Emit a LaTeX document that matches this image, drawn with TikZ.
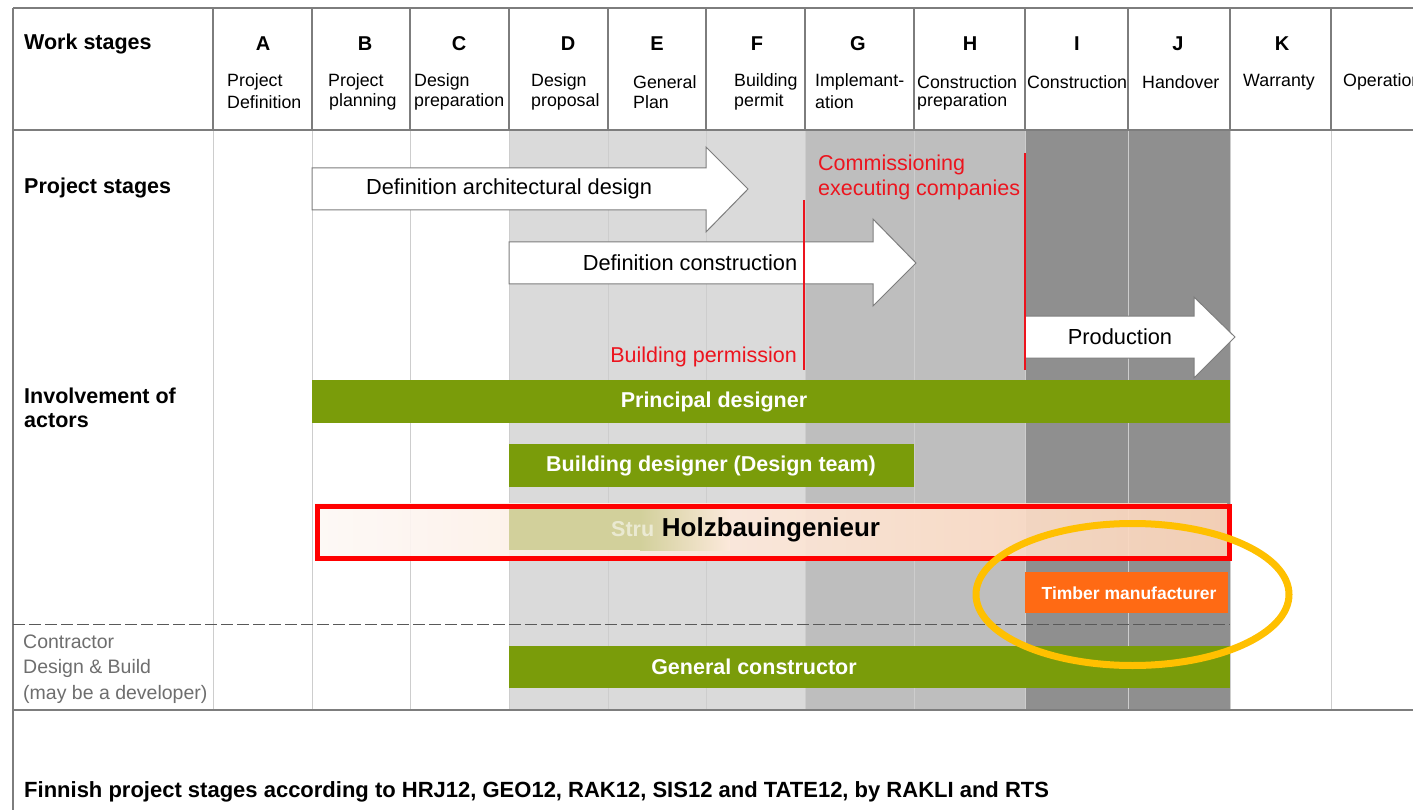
\documentclass[tikz,border=0pt]{standalone}
\usepackage{fontspec}
\setmainfont{Liberation Sans}
\usetikzlibrary{shapes.geometric}
\definecolor{barGreen}{RGB}{122,156,10}
\definecolor{grayA}{RGB}{218,218,218}
\definecolor{grayB}{RGB}{190,190,190}
\definecolor{grayC}{RGB}{143,143,143}
\definecolor{lineDark}{RGB}{125,125,125}
\definecolor{lineLight}{RGB}{205,205,205}
\definecolor{redLine}{RGB}{236,20,30}
\definecolor{peach}{RGB}{251,212,185}
\definecolor{paleWhite}{RGB}{253,249,246}
\definecolor{paleOlive}{RGB}{210,208,155}
\definecolor{midPeach}{RGB}{252,233,219}
\definecolor{timberOrange}{RGB}{255,106,20}
\definecolor{goldRing}{RGB}{255,192,0}
\definecolor{contrGray}{RGB}{110,110,110}
\begin{document}
\begin{tikzpicture}[x=1pt,y=-1pt,
  hdr/.style={font=\fontsize{17.8pt}{20pt}\selectfont, inner sep=0, anchor=west},
  letter/.style={font=\bfseries\fontsize{20pt}{22pt}\selectfont, inner sep=0},
  rowlabel/.style={font=\bfseries\fontsize{21.5pt}{24pt}\selectfont, inner sep=0, anchor=west},
  arrowbox/.style={fill=white, draw=lineDark, line width=1pt},
  arrtext/.style={font=\fontsize{21.8pt}{24pt}\selectfont, inner sep=0},
  redtext/.style={font=\fontsize{21.5pt}{24pt}\selectfont, text=redLine, inner sep=0},
  redline/.style={draw=redLine, line width=2pt},
  greenbar/.style={fill=barGreen, draw=none, anchor=north west, inner sep=0},
  bartext/.style={font=\bfseries\fontsize{21.5pt}{24pt}\selectfont, text=white, inner sep=0},
  contr/.style={font=\fontsize{19.5pt}{22pt}\selectfont, text=contrGray, inner sep=0, anchor=west},
  hline/.style={draw=lineDark, line width=1.2pt},
  bodyline/.style={draw=lineLight, line width=0.9pt}
]
\useasboundingbox (0,0) rectangle (1413,810);
\clip (0,0) rectangle (1413,810);
\fill[white] (0,0) rectangle (1413,810);

% shaded stage regions
\fill[grayA] (509,130) rectangle (805,710);
\fill[grayB] (805,130) rectangle (1025,710);
\fill[grayC] (1025,130) rectangle (1230,710);

% body column lines
\foreach \cx in {213,312,410,509,608,706,805,914,1025,1128,1230,1331}
  \draw[bodyline] (\cx,130) -- (\cx,710);
% header column lines
\foreach \cx in {213,312,410,509,608,706,805,914,1025,1128,1230,1331}
  \draw[hline] (\cx,8) -- (\cx,130);
% table frame
\draw[hline] (13,8) -- (1413,8);
\draw[hline] (13,130) -- (1413,130);
\draw[hline] (13,710) -- (1413,710);
\draw[hline] (13,8) -- (13,810);

% header
\node[rowlabel] (ws) at (24,44) {Work stages};
\node[letter] (lA) at (263,44) {A};
\node[letter] (lB) at (365,44) {B};
\node[letter] (lC) at (459,44) {C};
\node[letter] (lD) at (568,44) {D};
\node[letter] (lE) at (657,44) {E};
\node[letter] (lF) at (757,44) {F};
\node[letter] (lG) at (858,44) {G};
\node[letter] (lH) at (970,44) {H};
\node[letter] (lI) at (1077,44) {I};
\node[letter] (lJ) at (1178,44) {J};
\node[letter] (lK) at (1282,44) {K};

\node[hdr] (sA1) at (227,82) {Project};
\node[hdr] (sA2) at (227,102) {Definition};
\node[hdr] (sB1) at (328,82) {Project};
\node[hdr] (sB2) at (329,102) {planning};
\node[hdr] (sC1) at (414,82) {Design};
\node[hdr] (sC2) at (414,102) {preparation};
\node[hdr] (sD1) at (531,82) {Design};
\node[hdr] (sD2) at (531,102) {proposal};
\node[hdr] (sE1) at (633,82) {General};
\node[hdr] (sE2) at (633,102) {Plan};
\node[hdr] (sF1) at (734,82) {Building};
\node[hdr] (sF2) at (734,102) {permit};
\node[hdr] (sG1) at (815,82) {Implemant-};
\node[hdr] (sG2) at (815,102) {ation};
\node[hdr] (sH1) at (917,82) {Construction};
\node[hdr] (sH2) at (917,102) {preparation};
\node[hdr] (sI1) at (1027,82) {Construction};
\node[hdr] (sJ1) at (1142,82) {Handover};
\node[hdr] (sK1) at (1243,82) {Warranty};
\node[hdr] (sL1) at (1343,82) {Operation};

% row labels
\node[rowlabel] (ps) at (24,188) {Project stages};
\node[rowlabel] (inv1) at (24,396) {Involvement of};
\node[rowlabel] (inv2) at (24,421) {actors};

% arrows
\draw[arrowbox] (312,168) -- (706,168) -- (706,147) -- (748,189) -- (706,232) -- (706,210) -- (312,210) -- cycle;
\node[arrtext] (adesign) at (509,189) {Definition architectural design};
\draw[arrowbox] (509,242) -- (873,242) -- (873,219) -- (916,263) -- (873,306) -- (873,284) -- (509,284) -- cycle;
\node[arrtext] (aconstr) at (690,263) {Definition construction};
\draw[arrowbox] (1025,316) -- (1194,316) -- (1194,297) -- (1235,337) -- (1194,378) -- (1194,358) -- (1025,358) -- cycle;
\node[arrtext] (aprod) at (1120,337) {Production};

% red milestones
\coordinate (r1t) at (804,200);
\coordinate (r1b) at (804,370);
\coordinate (r2t) at (1025,153);
\coordinate (r2b) at (1025,370);
\draw[redline] (r1t) -- (r1b);
\draw[redline] (r2t) -- (r2b);
\node[redtext, anchor=west] (comm1) at (818,165) {Commissioning};
\node[redtext, anchor=west] (comm2) at (818,190) {executing companies};
\node[redtext, anchor=east] (bperm) at (797,357) {Building permission};

% actor bars
\node[greenbar, minimum width=918pt, minimum height=43pt] (principal) at (312,380) {};
\node[bartext] (principalT) at (714,402) {Principal designer};
\node[greenbar, minimum width=405pt, minimum height=43pt] (building) at (509,444) {};
\node[bartext] (buildingT) at (711,466) {Building designer (Design team)};

% Holzbauingenieur box
\node[anchor=north west, minimum width=912pt, minimum height=53pt, inner sep=0,
      left color=paleWhite, right color=peach, fill opacity=0.92, draw=none] (holzfill) at (315,503) {};
\fill[paleOlive] (509,507) rectangle (640,550);
\shade[left color=paleOlive, right color=midPeach] (640,507) rectangle (730,550);
\node[bartext, anchor=west, text opacity=0.55] (stru) at (611,529) {Stru};
\node[anchor=north west, minimum width=912pt, minimum height=52pt, inner sep=0,
      draw=red, line width=5pt] (holz) at (315,504) {};
\node[font=\bfseries\fontsize{26pt}{28pt}\selectfont, inner sep=0] (holzT) at (771,530) {Holzbauingenieur};

% timber manufacturer
\node[anchor=north west, fill=timberOrange, minimum width=203pt, minimum height=41pt, inner sep=0] (timber) at (1025,572) {};
\node[font=\bfseries\fontsize{17.5pt}{20pt}\selectfont, text=white, inner sep=0] (timberT) at (1129,593) {Timber manufacturer};

% dashed separator
\coordinate (dashL) at (13,624);
\coordinate (dashR) at (1230,624);
\draw[draw=black!65, line width=1pt, dash pattern=on 12pt off 4pt] (dashL) -- (dashR);

% contractor row
\node[contr] (c1) at (23,642) {Contractor};
\node[contr] (c2) at (23,668) {Design \& Build};
\node[contr] (c3) at (23,694) {(may be a developer)};
\node[greenbar, minimum width=721pt, minimum height=42pt] (general) at (509,646) {};
\node[bartext] (generalT) at (754,667) {General constructor};

% highlight ring
\node[draw=goldRing, line width=7pt, ellipse, minimum width=313pt, minimum height=142pt, inner sep=0] (ring) at (1132.5,594.5) {};

% caption
\node[rowlabel, font=\bfseries\fontsize{22pt}{24pt}\selectfont] (caption) at (24,792) {Finnish project stages according to HRJ12, GEO12, RAK12, SIS12 and TATE12, by RAKLI and RTS};
\end{tikzpicture}
\end{document}
